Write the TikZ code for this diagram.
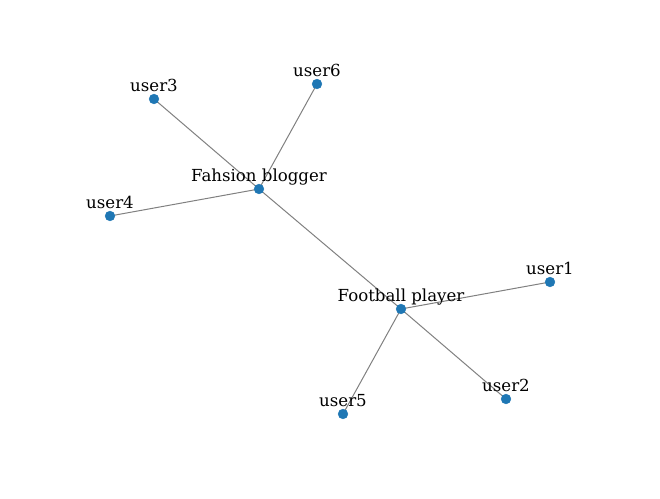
\documentclass[tikz,border=0pt]{standalone}
\usepackage{fontspec}
\setmainfont{DejaVu Serif}
\usetikzlibrary{backgrounds}
\definecolor{nodeblue}{HTML}{1F77B4}
\begin{document}
\begin{tikzpicture}[x=1bp,y=-1bp,
  vtx/.style={circle,fill=nodeblue,draw=nodeblue,inner sep=0pt,minimum size=9.8bp},
  lbl/.style={anchor=base,inner sep=0pt,yshift=7.8bp,font=\fontsize{16.6bp}{18bp}\selectfont},
  edge/.style={draw=gray,line width=1bp}]
\useasboundingbox (0,0) rectangle (660,499);
\node[vtx] (fb) at (259,189) {};
\node[vtx] (fp) at (401,309) {};
\node[vtx] (u1) at (550,282) {};
\node[vtx] (u2) at (506,399) {};
\node[vtx] (u3) at (154,99) {};
\node[vtx] (u4) at (110,216) {};
\node[vtx] (u5) at (343,414) {};
\node[vtx] (u6) at (317,84) {};
\begin{scope}[on background layer]
\draw[edge] (fb.center) -- (fp.center);
\draw[edge] (fb.center) -- (u3.center);
\draw[edge] (fb.center) -- (u4.center);
\draw[edge] (fb.center) -- (u6.center);
\draw[edge] (fp.center) -- (u1.center);
\draw[edge] (fp.center) -- (u2.center);
\draw[edge] (fp.center) -- (u5.center);
\end{scope}
\node[lbl] (tfb) at (fb) {Fahsion blogger};
\node[lbl] (tfp) at (fp) {Football player};
\node[lbl] (tu1) at (u1) {user1};
\node[lbl] (tu2) at (u2) {user2};
\node[lbl] (tu3) at (u3) {user3};
\node[lbl] (tu4) at (u4) {user4};
\node[lbl] (tu5) at (u5) {user5};
\node[lbl] (tu6) at (u6) {user6};
\end{tikzpicture}
\end{document}
